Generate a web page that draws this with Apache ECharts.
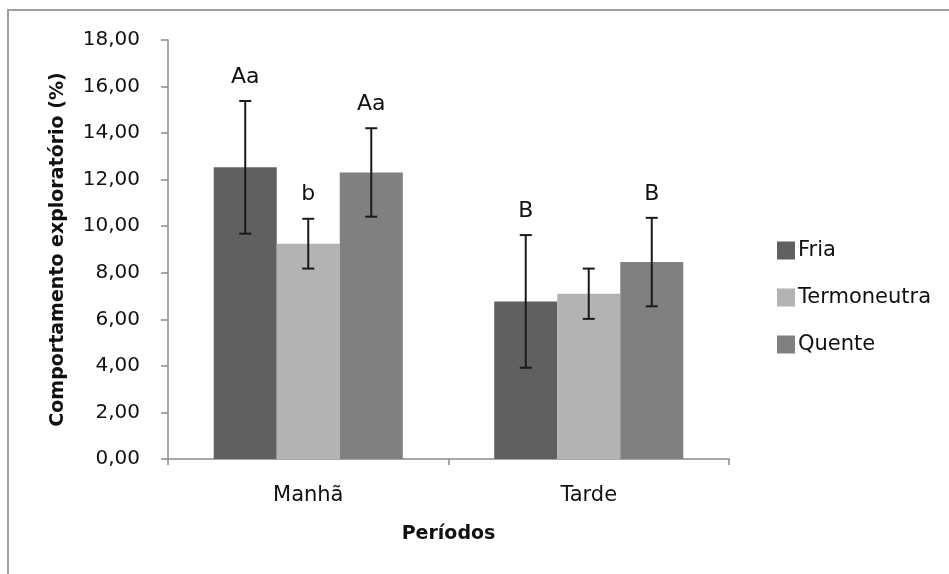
<!DOCTYPE html>
<html>
<head>
<meta charset="utf-8">
<script src="https://cdn.jsdelivr.net/npm/echarts@6/dist/echarts.min.js"></script>
<style>
html,body{margin:0;padding:0;background:#fff;}
#chart{width:949px;height:574px;}
</style>
</head>
<body>
<div id="chart"></div>
<script>
const categories = ['Manhã', 'Tarde'];
const seriesNames = ['Fria', 'Termoneutra', 'Quente'];
const fria = [12.53, 6.77];
const termoneutra = [9.25, 7.10];
const quente = [12.31, 8.46];
const friaErr = [2.85, 2.85];
const termoneutraErr = [1.07, 1.08];
const quenteErr = [1.90, 1.90];
const friaLetters = ['Aa', 'B'];
const termoneutraLetters = ['b', ''];
const quenteLetters = ['Aa', 'B'];
const yTicks = { min: 0, max: 18, interval: 2 };

const colors = ['#606060', '#b3b3b3', '#808080'];
const means = [fria, termoneutra, quente];
const errs = [friaErr, termoneutraErr, quenteErr];
const letters = [friaLetters, termoneutraLetters, quenteLetters];
const CAT_GAP = 0.326;
const FONT = "'DejaVu Sans', sans-serif";

const chart = echarts.init(document.getElementById('chart'), null, { renderer: 'canvas' });

const barSeries = seriesNames.map((name, i) => ({
  name: name,
  type: 'bar',
  data: means[i],
  barGap: '0%',
  barCategoryGap: (CAT_GAP * 100) + '%',
  itemStyle: { color: colors[i] },
  emphasis: { disabled: true },
  z: 2
}));

const errSeries = seriesNames.map((name, i) => ({
  name: name + ' erro',
  type: 'custom',
  data: means[i].map((m, j) => [j, m, errs[i][j]]),
  renderItem: function (params, api) {
    const cat = api.value(0);
    const mean = api.value(1);
    const e = api.value(2);
    const letter = letters[i][params.dataIndex];
    const band = api.size([1, 0])[0];
    const bw = band * (1 - CAT_GAP) / 3;
    const cx = api.coord([cat, mean])[0] + (i - 1) * bw;
    const yTop = api.coord([cat, mean + e])[1];
    const yBot = api.coord([cat, mean - e])[1];
    const cap = 6;
    const style = { stroke: '#1a1a1a', lineWidth: 2 };
    const children = [
      { type: 'line', shape: { x1: cx, y1: yTop, x2: cx, y2: yBot }, style: style },
      { type: 'line', shape: { x1: cx - cap, y1: yTop, x2: cx + cap, y2: yTop }, style: style },
      { type: 'line', shape: { x1: cx - cap, y1: yBot, x2: cx + cap, y2: yBot }, style: style }
    ];
    if (letter) {
      children.push({
        type: 'text',
        style: {
          x: cx, y: yTop - 24, text: letter,
          font: "22px 'DejaVu Sans', sans-serif",
          fill: '#111', align: 'center', verticalAlign: 'middle'
        }
      });
    }
    return { type: 'group', children: children };
  },
  z: 5,
  silent: true
}));

const option = {
  backgroundColor: '#ffffff',
  animation: false,
  color: colors,
  graphic: [{
    type: 'rect',
    shape: { x: 8, y: 10, width: 1000, height: 700 },
    style: { fill: 'none', stroke: '#a0a0a0', lineWidth: 2 },
    silent: true
  }],
  grid: { left: 168, right: 220, top: 40, bottom: 115, containLabel: false },
  legend: {
    orient: 'vertical',
    left: 772,
    top: 235,
    data: seriesNames,
    icon: 'rect',
    itemWidth: 18,
    itemHeight: 18,
    itemGap: 26,
    textStyle: { fontFamily: FONT, fontSize: 21, color: '#111', padding: [0, 0, 0, -2] },
    selectedMode: false
  },
  xAxis: {
    type: 'category',
    data: categories,
    name: 'Períodos',
    nameLocation: 'middle',
    nameGap: 66,
    nameTextStyle: { fontFamily: FONT, fontSize: 19, fontWeight: 'bold', color: '#111' },
    axisLine: { lineStyle: { color: '#8c8c8c', width: 1.5 } },
    axisTick: { show: true, length: 6, lineStyle: { color: '#8c8c8c', width: 1.5 } },
    axisLabel: { fontFamily: FONT, fontSize: 21, color: '#111', margin: 26 }
  },
  yAxis: {
    type: 'value',
    min: yTicks.min,
    max: yTicks.max,
    interval: yTicks.interval,
    name: 'Comportamento exploratório (%)',
    nameLocation: 'middle',
    nameRotate: 90,
    nameGap: 100,
    nameTextStyle: { fontFamily: FONT, fontSize: 19, fontWeight: 'bold', color: '#111' },
    axisLine: { show: true, lineStyle: { color: '#8c8c8c', width: 1.5 } },
    axisTick: { show: true, length: 7, lineStyle: { color: '#8c8c8c', width: 1.5 } },
    splitLine: { show: false },
    axisLabel: {
      fontFamily: FONT, fontSize: 20, color: '#111', margin: 28,
      formatter: v => v.toFixed(2).replace('.', ',')
    }
  },
  series: barSeries.concat(errSeries)
};

chart.setOption(option);
</script>
</body>
</html>
